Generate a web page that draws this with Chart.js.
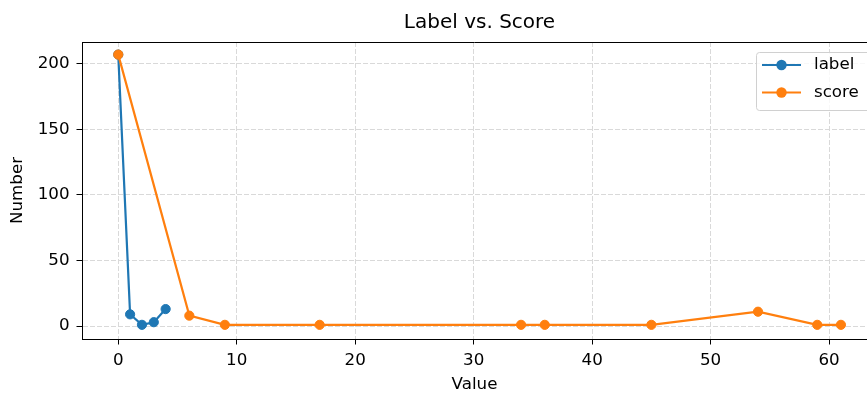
<!DOCTYPE html>
<html>
<head>
<meta charset="utf-8">
<script src="https://cdn.jsdelivr.net/npm/chart.js@4/dist/chart.umd.min.js"></script>
<style>
  html, body { margin: 0; padding: 0; background: #fff; }
  canvas { display: block; }
</style>
</head>
<body>
<canvas id="chart" width="867" height="393"></canvas>
<script>
// Series: "label" and "score" counts by value
const labelX = [0, 1, 2, 3, 4];
const labelY = [207, 9, 1, 3, 13];
const scoreX = [0, 6, 9, 17, 34, 36, 45, 54, 59, 61];
const scoreY = [207, 8, 1, 1, 1, 1, 1, 11, 1, 1];

// Axis ticks
const xTicks = [0, 10, 20, 30, 40, 50, 60];
const yTicks = [0, 50, 100, 150, 200];

const FONT = 'DejaVu Sans';
const BLUE = '#1f77b4';
const ORANGE = '#ff7f0e';
const GRID = '#d9d9d9';

const toPoints = (xs, ys) => xs.map((x, i) => ({ x: x, y: ys[i] }));

// Title centred over the full axes span, plus top frame line
const frameAndTitle = {
  id: 'frameAndTitle',
  afterLayout(chart) {
    const area = chart.chartArea;
    if (chart.titleBlock) {
      chart.titleBlock.left = area.left;
      chart.titleBlock.right = area.right + 10;
    }
  },
  afterDatasetsDraw(chart) {
    const { ctx, chartArea: a } = chart;
    ctx.save();
    ctx.strokeStyle = '#000';
    ctx.lineWidth = 1;
    ctx.beginPath();
    ctx.moveTo(a.left, Math.round(a.top) + 0.5);
    ctx.lineTo(a.right, Math.round(a.top) + 0.5);
    ctx.stroke();
    ctx.restore();
  }
};

// Legend box in the upper-right corner of the plot, line + marker samples
const innerLegend = {
  id: 'innerLegend',
  afterDraw(chart) {
    const { ctx, chartArea: a } = chart;
    const bx = a.left + 674, by = a.top + 10, bw = 130, bh = 58;
    ctx.save();
    ctx.fillStyle = 'rgba(255,255,255,0.8)';
    ctx.strokeStyle = '#d0d0d0';
    ctx.lineWidth = 1;
    ctx.beginPath();
    ctx.roundRect(bx + 0.5, by + 0.5, bw, bh, 3);
    ctx.fill();
    ctx.stroke();
    ctx.font = '16.7px "' + FONT + '"';
    ctx.textBaseline = 'middle';
    chart.data.datasets.forEach((ds, i) => {
      const y = by + 13 + i * 27.5;
      ctx.strokeStyle = ds.borderColor;
      ctx.lineWidth = 2.2;
      ctx.beginPath();
      ctx.moveTo(bx + 6, y);
      ctx.lineTo(bx + 45, y);
      ctx.stroke();
      ctx.fillStyle = ds.borderColor;
      ctx.beginPath();
      ctx.arc(bx + 25.5, y, 5.2, 0, Math.PI * 2);
      ctx.fill();
      ctx.fillStyle = '#000';
      ctx.fillText(ds.label, bx + 58, y);
    });
    ctx.restore();
  }
};

const axisGrid = {
  color: GRID,
  lineWidth: 1,
  drawTicks: true,
  tickLength: 5.5,
  tickColor: '#000',
  tickWidth: 1,
  tickBorderDash: []
};
const axisBorder = { display: true, color: '#000', width: 1, dash: [5, 2] };
const tickFont = { family: FONT, size: 16.7 };
const titleFont = { family: FONT, size: 16.7, lineHeight: 1 };

new Chart(document.getElementById('chart'), {
  type: 'line',
  data: {
    datasets: [
      {
        label: 'label',
        data: toPoints(labelX, labelY),
        borderColor: BLUE,
        backgroundColor: BLUE,
        pointBackgroundColor: BLUE,
        pointBorderColor: BLUE,
        borderWidth: 2.2,
        pointRadius: 4.6,
        pointBorderWidth: 1,
        tension: 0,
        order: 1
      },
      {
        label: 'score',
        data: toPoints(scoreX, scoreY),
        borderColor: ORANGE,
        backgroundColor: ORANGE,
        pointBackgroundColor: ORANGE,
        pointBorderColor: ORANGE,
        borderWidth: 2.2,
        pointRadius: 4.6,
        pointBorderWidth: 1,
        tension: 0,
        order: 0
      }
    ]
  },
  options: {
    responsive: false,
    animation: false,
    events: [],
    layout: { padding: 0, autoPadding: false },
    plugins: {
      legend: { display: false },
      tooltip: { enabled: false },
      title: {
        display: true,
        text: 'Label vs. Score',
        color: '#000',
        font: { family: FONT, size: 20, weight: 'normal' },
        padding: { top: 11, bottom: 7 }
      }
    },
    scales: {
      x: {
        type: 'linear',
        min: -3.06,
        max: 63.2,
        afterBuildTicks: s => { s.ticks = xTicks.map(v => ({ value: v })); },
        afterFit: s => { s.height = 54; s.paddingLeft = 0; s.paddingRight = 0; },
        grid: axisGrid,
        border: axisBorder,
        ticks: { color: '#000', font: tickFont, padding: 6, maxRotation: 0 },
        title: {
          display: true,
          text: 'Value',
          color: '#000',
          font: titleFont,
          padding: { top: 0, bottom: 0 }
        }
      },
      y: {
        type: 'linear',
        min: -9.8,
        max: 216.6,
        afterBuildTicks: s => { s.ticks = yTicks.map(v => ({ value: v })); },
        afterFit: s => { s.width = 82; },
        grid: axisGrid,
        border: axisBorder,
        ticks: { color: '#000', font: tickFont, padding: 7 },
        title: {
          display: true,
          text: 'Number',
          color: '#000',
          font: titleFont,
          padding: { top: 9, bottom: 0 }
        }
      }
    }
  },
  plugins: [frameAndTitle, innerLegend]
});
</script>
</body>
</html>
